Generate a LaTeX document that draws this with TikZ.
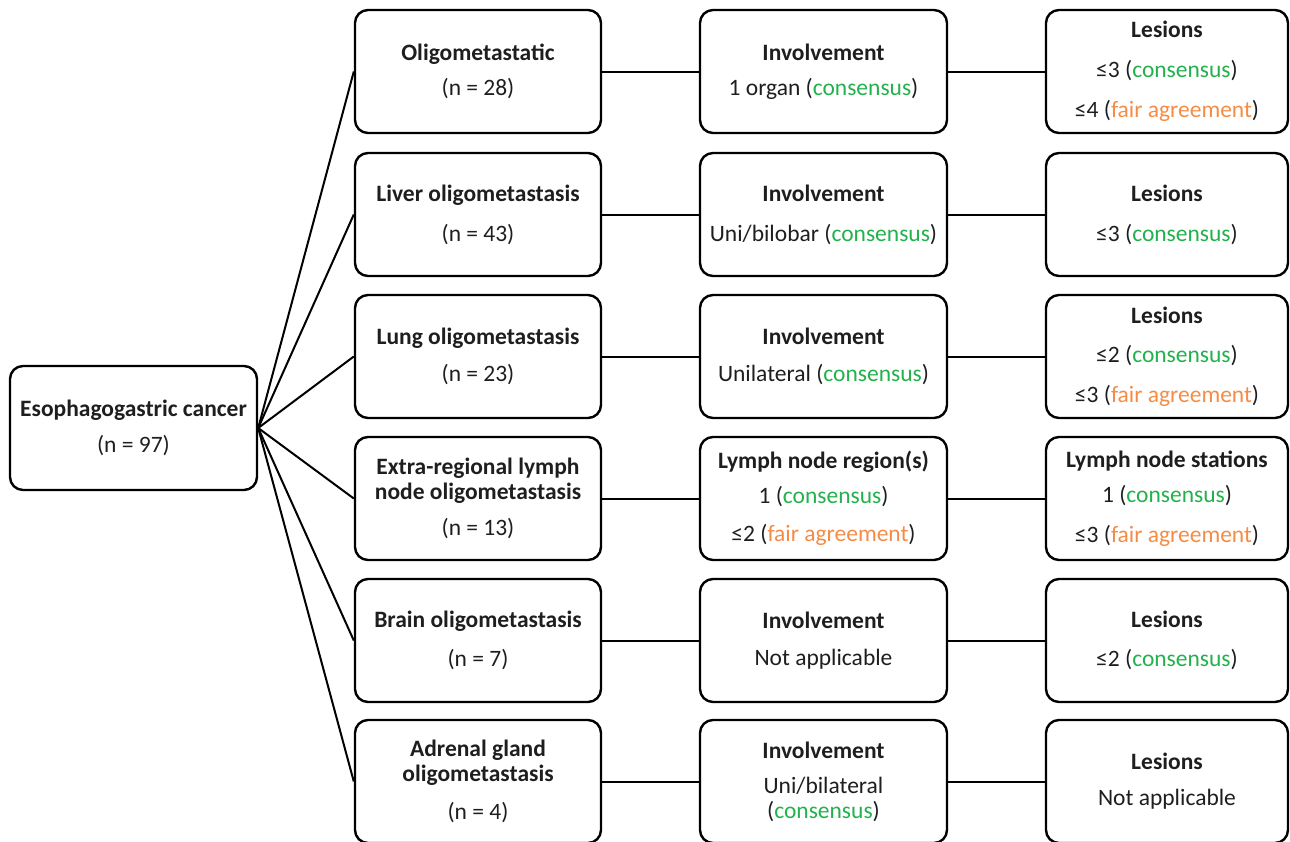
\documentclass[tikz,border=0pt]{standalone}
\usepackage{fontspec}
\setmainfont{Carlito}
\definecolor{cgreen}{RGB}{34,177,76}
\definecolor{corange}{RGB}{245,140,70}
\definecolor{ctext}{RGB}{30,30,30}
\newcommand{\cons}{(\textcolor{cgreen}{consensus})}
\newcommand{\fair}{(\textcolor{corange}{fair agreement})}
\tikzset{
  box/.style={draw, line width=2.4pt, rounded corners=13pt, align=center,
    text=ctext, inner sep=0pt, minimum height=123pt,
    font=\fontsize{23.5}{25}\selectfont},
  colA/.style={box, minimum width=246pt},
  colB/.style={box, minimum width=247pt},
  colC/.style={box, minimum width=242pt},
  link/.style={line width=2pt, draw=black}
}
\begin{document}
\begin{tikzpicture}[x=1pt,y=-1pt]
\useasboundingbox (0,0) rectangle (1290,841);
\node[box, minimum width=247pt, minimum height=124pt] (root) at (133.5,428) {\textbf{Esophagogastric cancer}\\[11pt](n = 97)};
% row 1
\node[colA] (a1) at (478,71.5) {\textbf{Oligometastatic}\\[10pt](n = 28)};
\node[colB] (b1) at (823.5,71.5) {\textbf{Involvement}\\[10pt]1 organ \cons};
\node[colC] (c1) at (1167,71.5) {\textbf{Lesions}\\[15pt]≤3 \cons\\[15pt]≤4 \fair};
% row 2
\node[colA] (a2) at (478,214.5) {\textbf{Liver oligometastasis}\\[15pt](n = 43)};
\node[colB] (b2) at (823.5,214.5) {\textbf{Involvement}\\[15pt]Uni/bilobar \cons};
\node[colC] (c2) at (1167,214.5) {\textbf{Lesions}\\[15pt]≤3 \cons};
% row 3
\node[colA] (a3) at (478,356.5) {\textbf{Lung oligometastasis}\\[12pt](n = 23)};
\node[colB] (b3) at (823.5,356.5) {\textbf{Involvement}\\[12pt]Unilateral \cons};
\node[colC] (c3) at (1167,356.5) {\textbf{Lesions}\\[14pt]≤2 \cons\\[15pt]≤3 \fair};
% row 4
\node[colA] (a4) at (478,498.5) {\textbf{Extra-regional lymph}\\\textbf{node oligometastasis}\\[11pt](n = 13)};
\node[colB] (b4) at (823.5,498.5) {\textbf{Lymph node region(s)}\\[10pt]1 \cons\\[13pt]≤2 \fair};
\node[colC] (c4) at (1167,498.5) {\textbf{Lymph node stations}\\[10pt]1 \cons\\[15pt]≤3 \fair};
% row 5
\node[colA] (a5) at (478,640.5) {\textbf{Brain oligometastasis}\\[14pt](n = 7)};
\node[colB] (b5) at (823.5,640.5) {\textbf{Involvement}\\[12pt]Not applicable};
\node[colC] (c5) at (1167,640.5) {\textbf{Lesions}\\[14pt]≤2 \cons};
% row 6
\node[colA] (a6) at (478,781.5) {\textbf{Adrenal gland}\\\textbf{oligometastasis}\\[13pt](n = 4)};
\node[colB] (b6) at (823.5,781.5) {\textbf{Involvement}\\[10pt]Uni/bilateral\\\cons};
\node[colC] (c6) at (1167,781.5) {\textbf{Lesions}\\[11pt]Not applicable};
% connectors
\foreach \i in {1,...,6}{
  \draw[link] (root.east) -- (a\i.west);
  \draw[link] (a\i.east) -- (b\i.west);
  \draw[link] (b\i.east) -- (c\i.west);
}
\end{tikzpicture}
\end{document}
